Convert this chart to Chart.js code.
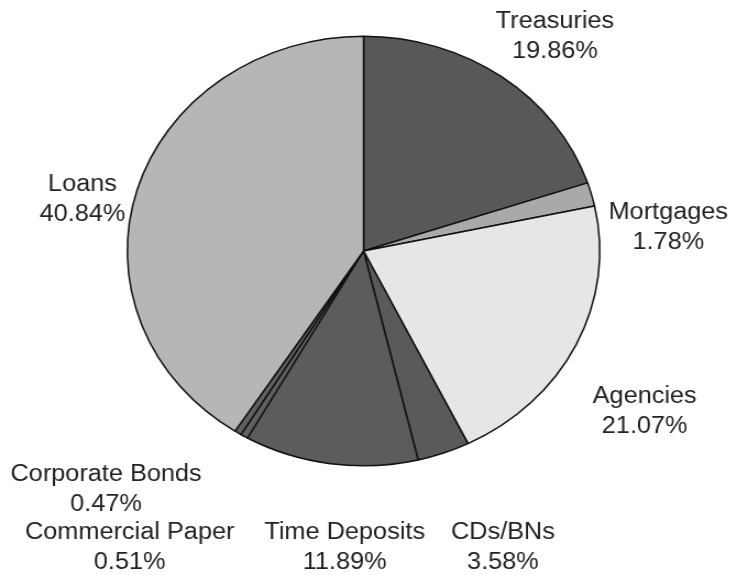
<!DOCTYPE html>
<html lang="en">
<head>
<meta charset="UTF-8">
<title>Portfolio Pie</title>
<script src="https://cdn.jsdelivr.net/npm/chart.js"></script>
<style>
    html, body {
        margin: 0;
        padding: 0;
        background: #fff;
        overflow: hidden;
    }
    /* the scanned original is a little wider than tall, so stretch it */
    #wrap {
        width: 664px;
        height: 575px;
        transform: scaleX(1.1);
        transform-origin: 0 0;
    }
</style>
</head>
<body>
<div id="wrap">
    <canvas id="myPieChart" width="664" height="575"></canvas>
</div>

<script>
var labels = ['Treasuries', 'Mortgages', 'Agencies', 'CDs/BNs', 'Time Deposits',
              'Commercial Paper', 'Corporate Bonds', 'Loans'];
var shares = [19.86, 1.78, 21.07, 3.58, 11.89, 0.51, 0.47, 40.84];

var sliceColors = ['#585858', '#a9a9a9', '#e6e6e6', '#5a5a5a', '#5c5c5c',
                   '#606060', '#606060', '#b6b6b6'];

// where each label sits, relative to pie centre, in units of radius
var labelOffsets = [
    [0.81, -1.00], [1.29, -0.11], [1.19, 0.75], [0.59, 1.38],
    [-0.08, 1.38], [-0.99, 1.38], [-1.09, 1.11], [-1.19, -0.24]
];

var pieLabels = {
    id: 'pieLabels',
    afterDatasetsDraw: function (chart) {
        var ctx = chart.ctx;
        var arc = chart.getDatasetMeta(0).data[0];
        var r = arc.outerRadius;
        ctx.save();
        ctx.fillStyle = '#222';
        ctx.font = '23px "Liberation Sans", Arial, sans-serif';
        ctx.textAlign = 'center';
        ctx.textBaseline = 'middle';
        for (var i = 0; i < labels.length; i++) {
            var cx = arc.x + labelOffsets[i][0] * r;
            var cy = arc.y + labelOffsets[i][1] * r;
            ctx.fillText(labels[i], cx, cy - 15);
            ctx.fillText(shares[i].toFixed(2) + '%', cx, cy + 15);
        }
        ctx.restore();
    }
};

var ctxPie = document.getElementById('myPieChart').getContext('2d');
var myPieChart = new Chart(ctxPie, {
    type: 'pie',
    data: {
        labels: labels,
        datasets: [{
            data: shares,
            backgroundColor: sliceColors,
            borderColor: '#111',
            borderWidth: 1.5
        }]
    },
    options: {
        responsive: false,
        animation: false,
        layout: {
            padding: { top: 35, bottom: 108, left: 115, right: 118 }
        },
        plugins: {
            legend: { display: false },
            tooltip: { enabled: false }
        }
    },
    plugins: [pieLabels]
});
</script>
</body>
</html>
